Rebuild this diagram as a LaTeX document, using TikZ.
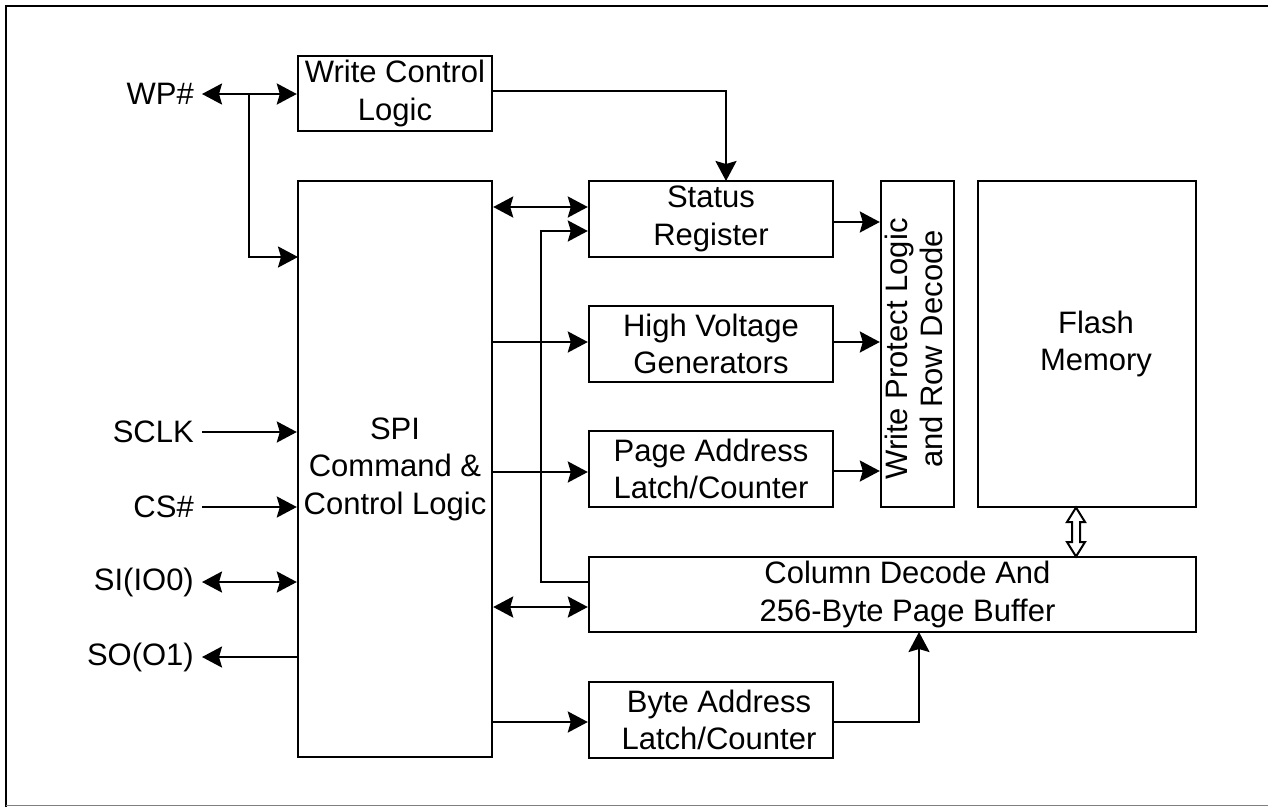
\documentclass[tikz,border=0pt]{standalone}
\usepackage{fontspec}
\setmainfont{Liberation Sans}
\usetikzlibrary{arrows.meta,calc}
\begin{document}
\begin{tikzpicture}[x=1pt,y=-1pt,
  every node/.style={font=\fontsize{31}{37.5}\selectfont},
  box/.style={draw,line width=2.4pt,inner sep=0pt,align=center,anchor=center},
  pin/.style={anchor=east,inner xsep=8pt,inner ysep=0pt},
  conn/.style={line width=2.4pt,arrows={-Stealth[length=20pt,width=21pt,inset=3pt]}},
  bidi/.style={line width=2.4pt,arrows={Stealth[length=20pt,width=21pt,inset=3pt]-Stealth[length=20pt,width=21pt,inset=3pt]}},
  plain/.style={line width=2.4pt}]
\useasboundingbox (0,0) rectangle (1268,807);
% frame
\draw[line width=2.4pt] (6,807) -- (6,6) -- (1268,6);
\draw[line width=1.2pt,gray] (6,805.5) -- (1268,805.5);

% boxes
\node[box,minimum width=194pt,minimum height=75pt] (wcl) at (395,93.5) {Write Control\\Logic};
\node[box,minimum width=194pt,minimum height=576pt] (spi) at (395,469) {SPI\\Command \&\\Control Logic};
\node[box,minimum width=244pt,minimum height=76pt] (sr) at (711,219) {Status\\Register};
\node[box,minimum width=244pt,minimum height=76pt] (hv) at (711,344) {High Voltage\\Generators};
\node[box,minimum width=244pt,minimum height=76pt] (pa) at (711,469) {Page Address\\Latch/Counter};
\node[box,minimum width=607pt,minimum height=75pt] (cd) at (892.5,594.5) {\hspace*{30pt}Column Decode And\\\hspace*{30pt}256-Byte Page Buffer};
\node[box,minimum width=244pt,minimum height=76pt] (ba) at (711,720) {\hspace*{16pt}Byte Address\\\hspace*{16pt}Latch/Counter};
\node[box,minimum width=73pt,minimum height=326pt] (wpl) at (917.5,344) {\makebox[0pt]{\rotatebox{90}{\begin{tabular}{@{}c@{}}Write Protect Logic\hspace*{10pt}\\[-2pt]and Row Decode\hspace*{10pt}\end{tabular}}}};
\node[box,minimum width=218pt,minimum height=326pt] (fm) at (1087,344) {\hspace*{18pt}Flash\\\hspace*{18pt}Memory};

% pins
\node[pin] (wp) at (202,94) {WP\#};
\node[pin] (sclk) at (202,432) {SCLK};
\node[pin] (cs) at (202,507) {CS\#};
\node[pin] (si) at (202,582) {SI(IO0)};
\node[pin] (so) at (202,657) {SO(O1)};

% helper coordinates
\coordinate (j1) at (249,94);
\coordinate (wpin) at (298,257);
\coordinate (wclout) at (492,91);
\coordinate (srin) at (726,181);
\coordinate (bus) at (541,231);
\coordinate (cdout) at (589,582);
\coordinate (cdin) at (919,632);
\coordinate (baout) at (833,722);

% pin connectors
\draw[bidi] (wp.east) -- (wcl.west |- wp.east);
\draw[conn] (j1) |- (wpin);
\draw[conn] (sclk.east) -- (spi.west |- sclk.east);
\draw[conn] (cs.east) -- (spi.west |- cs.east);
\draw[bidi] (si.east) -- (spi.west |- si.east);
\draw[conn] (spi.west |- so.east) -- (so.east);

% internal connectors
\draw[conn] (wclout) -| (srin);
\draw[bidi] (spi.east |- 0,207) -- (sr.west |- 0,207);
\draw[conn] (cdout) -| (bus) -- (sr.west |- bus);
\draw[conn] (spi.east |- 0,342) -- (hv.west |- 0,342);
\draw[conn] (spi.east |- 0,472) -- (pa.west |- 0,472);
\draw[bidi] (spi.east |- 0,607) -- (cd.west |- 0,607);
\draw[conn] (spi.east |- 0,722) -- (ba.west |- 0,722);
\draw[conn] (sr.east |- 0,222) -- (wpl.west |- 0,222);
\draw[conn] (hv.east |- 0,342) -- (wpl.west |- 0,342);
\draw[conn] (pa.east |- 0,471) -- (wpl.west |- 0,471);
\draw[conn] (baout) -| (cdin);

% hollow double arrow flash <-> column decode
\draw[line width=2pt,line join=miter,fill=white]
  (1076,507.5) -- (1085,522) -- (1080,522) -- (1080,542) -- (1085,542) -- (1076,556.5)
  -- (1067,542) -- (1072,542) -- (1072,522) -- (1067,522) -- cycle;
\end{tikzpicture}
\end{document}
